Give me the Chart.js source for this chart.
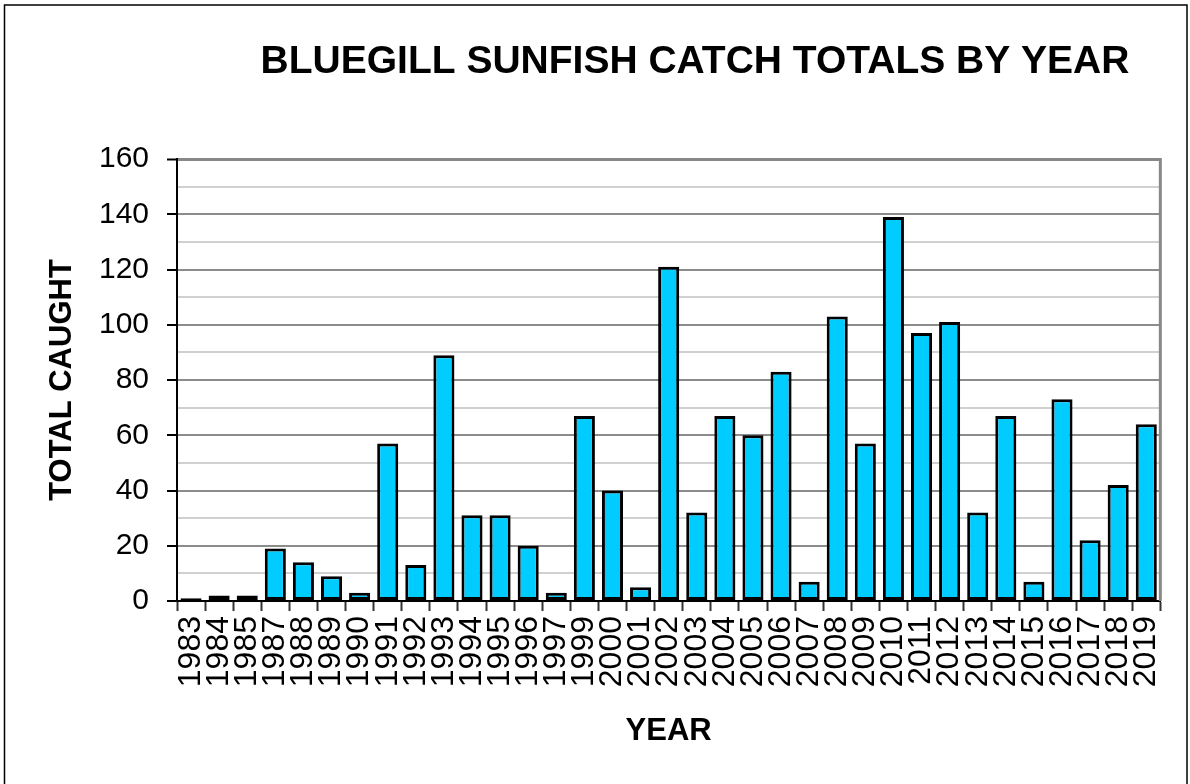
<!DOCTYPE html>
<html>
<head>
<meta charset="utf-8">
<title>Bluegill Sunfish Catch Totals</title>
<script src="https://cdn.jsdelivr.net/npm/chart.js@4/dist/chart.umd.min.js"></script>
<style>
    body { margin: 0; background: #fff; }
    #myChart { display: block; }
</style>
</head>
<body>
<canvas id="myChart" width="1190" height="784"></canvas>
<script>
var chartTitle = 'BLUEGILL SUNFISH CATCH TOTALS BY YEAR';
var xTitle = 'YEAR';
var yTitle = 'TOTAL CAUGHT';

var years = ['1983', '1984', '1985', '1987', '1988', '1989', '1990', '1991', '1992', '1993',
    '1994', '1995', '1996', '1997', '1999', '2000', '2001', '2002', '2003', '2004',
    '2005', '2006', '2007', '2008', '2009', '2010', '2011', '2012', '2013', '2014',
    '2015', '2016', '2017', '2018', '2019'];
var caught = [1, 2, 2, 19, 14, 9, 3, 57, 13, 89,
    31, 31, 20, 3, 67, 40, 5, 121, 32, 67,
    60, 83, 7, 103, 57, 139, 97, 101, 32, 67,
    7, 73, 22, 42, 64];

var yMin = 0;
var yMax = 160;
var yStep = 10;
var yLabelStep = 20;

var fontFamily = '"Liberation Sans", Arial, sans-serif';

// title, frame and right edge of the plot are drawn here
var framePlugin = {
    id: 'frame',
    afterDraw: function (chart) {
        var c = chart.ctx;
        var area = chart.chartArea;
        c.save();

        // right border of plot
        c.strokeStyle = '#888888';
        c.lineWidth = 3;
        c.beginPath();
        c.moveTo(area.right, area.top - 1);
        c.lineTo(area.right, area.bottom);
        c.stroke();

        // outer frame
        c.strokeStyle = '#000';
        c.lineWidth = 1.5;
        c.strokeRect(4.5, 5, 1182.5, 800);

        // title
        c.fillStyle = '#000';
        c.font = 'bold 39px ' + fontFamily;
        c.textAlign = 'center';
        c.textBaseline = 'middle';
        c.fillText(chartTitle, 695, 62);
        c.restore();
    }
};

var ctx = document.getElementById('myChart').getContext('2d');
var myChart = new Chart(ctx, {
    type: 'bar',
    data: {
        labels: years,
        datasets: [{
            label: 'Total caught',
            data: caught,
            backgroundColor: '#00CCFF',
            borderColor: '#000',
            borderWidth: 3,
            borderSkipped: false,
            barPercentage: 0.75,
            categoryPercentage: 1.0
        }]
    },
    plugins: [framePlugin],
    options: {
        responsive: false,
        animation: false,
        layout: {padding: {top: 159, right: 22, bottom: 0, left: 0}},
        plugins: {
            legend: {display: false},
            title: {display: false},
            tooltip: {enabled: false}
        },
        scales: {
            x: {
                offset: true,
                grid: {
                    offset: true,
                    drawOnChartArea: false,
                    drawTicks: true,
                    tickLength: 10,
                    tickWidth: 2,
                    tickColor: '#333'
                },
                border: {display: true, color: '#000', width: 2},
                ticks: {
                    color: '#000',
                    font: {family: fontFamily, size: 32},
                    minRotation: 90,
                    maxRotation: 90,
                    autoSkip: false,
                    padding: 5
                },
                title: {
                    display: true,
                    text: xTitle,
                    color: '#000',
                    font: {family: fontFamily, size: 31, weight: 'bold'},
                    padding: {top: 0, bottom: 34}
                },
                afterFit: function (scale) {
                    scale.height = 183;
                }
            },
            y: {
                min: yMin,
                max: yMax,
                grid: {
                    color: function (c) {
                        if (c.tick.value === yMax) return '#888888';
                        return c.tick.value % yLabelStep === 0 ? '#8c8c8c' : '#d0d0d0';
                    },
                    lineWidth: function (c) {
                        return c.tick.value === yMax ? 3 : 2;
                    },
                    tickColor: function (c) {
                        return c.tick.value % yLabelStep === 0 ? '#000' : 'rgba(0,0,0,0)';
                    },
                    tickLength: 10,
                    tickWidth: 2
                },
                border: {display: true, color: '#000', width: 2},
                ticks: {
                    stepSize: yStep,
                    color: '#000',
                    font: {family: fontFamily, size: 30},
                    padding: 18,
                    autoSkip: false,
                    callback: function (value) {
                        return value % yLabelStep === 0 ? value : '';
                    }
                },
                title: {
                    display: true,
                    text: yTitle,
                    color: '#000',
                    font: {family: fontFamily, size: 31, weight: 'bold'},
                    padding: {top: 44, bottom: 0}
                },
                afterFit: function (scale) {
                    scale.width = 177;
                }
            }
        }
    }
});
</script>
</body>
</html>
